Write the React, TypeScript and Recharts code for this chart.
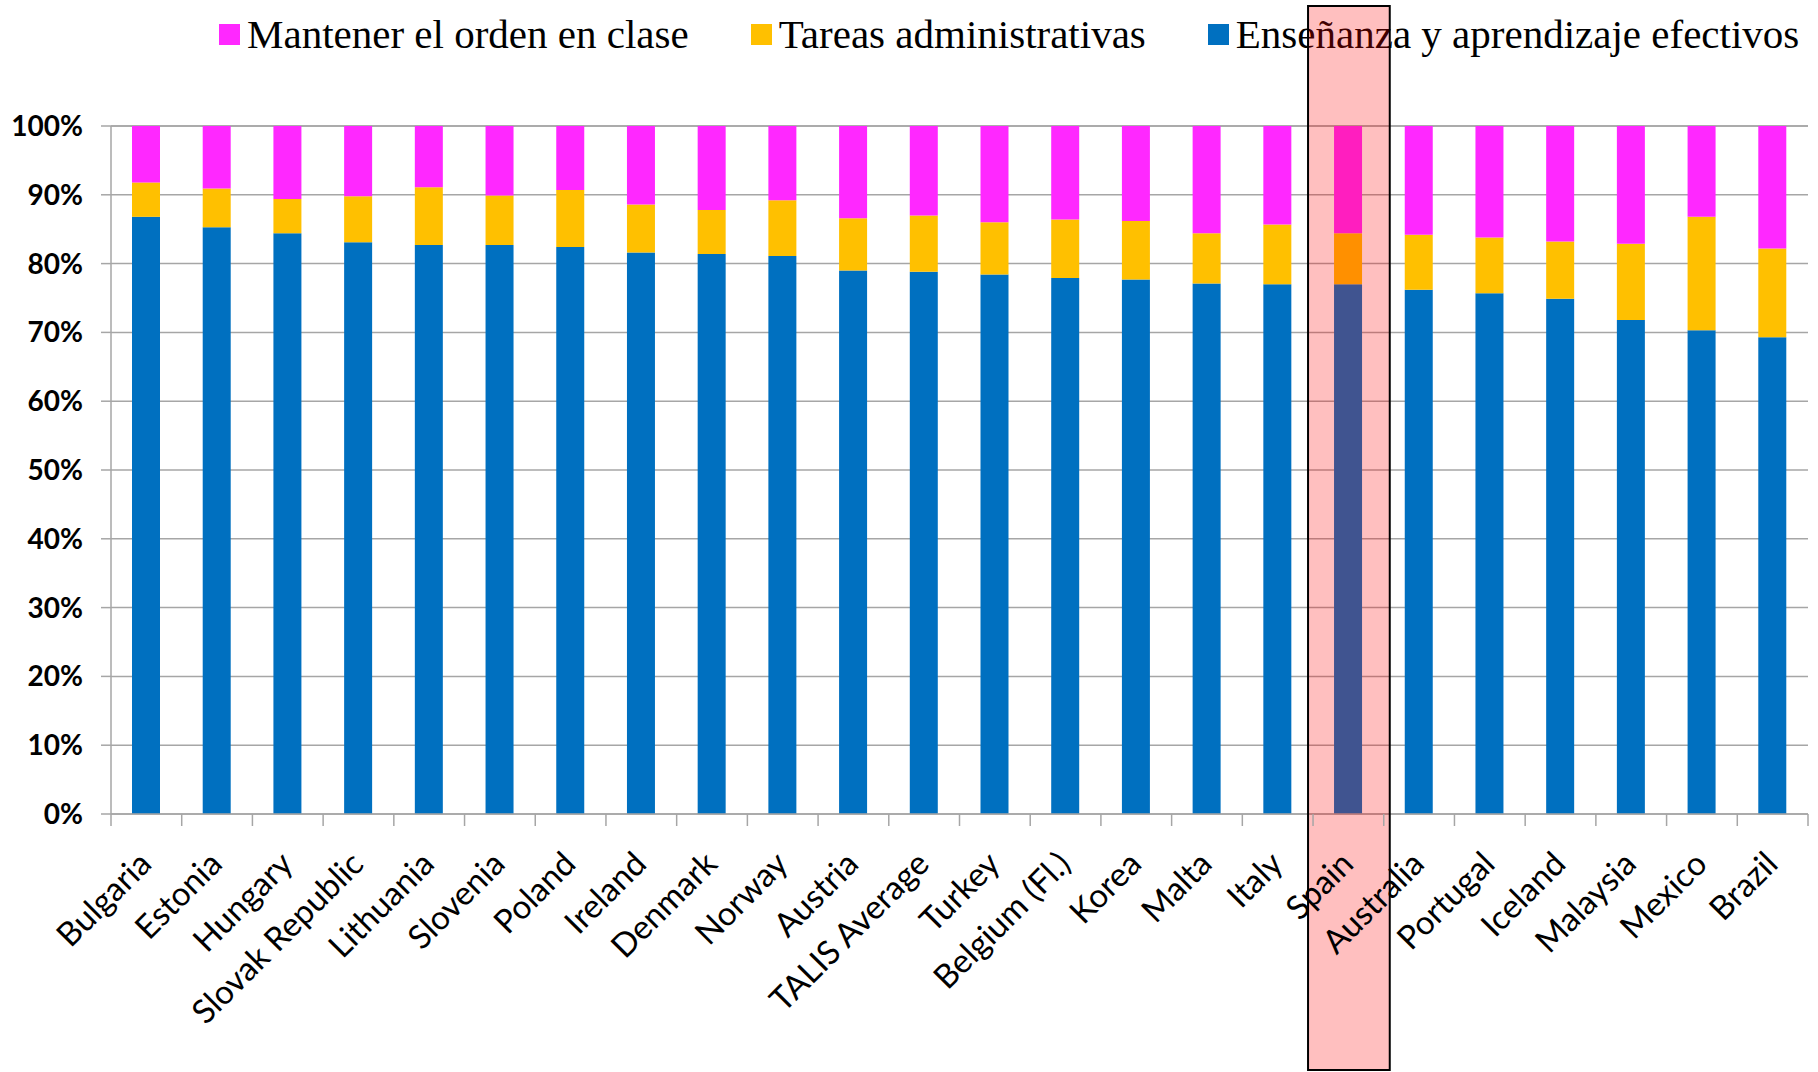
import { BarChart, Bar, XAxis, YAxis, CartesianGrid, ReferenceArea } from 'recharts';

const countries = [
  'Bulgaria', 'Estonia', 'Hungary', 'Slovak Republic', 'Lithuania', 'Slovenia',
  'Poland', 'Ireland', 'Denmark', 'Norway', 'Austria', 'TALIS Average',
  'Turkey', 'Belgium (Fl.)', 'Korea', 'Malta', 'Italy', 'Spain',
  'Australia', 'Portugal', 'Iceland', 'Malaysia', 'Mexico', 'Brazil',
];

// Enseñanza y aprendizaje efectivos
const teaching = [
  86.8, 85.3, 84.4, 83.1, 82.7, 82.7, 82.4, 81.6, 81.4, 81.1, 79.0, 78.8,
  78.4, 77.9, 77.7, 77.1, 77.0, 77.0, 76.2, 75.7, 74.9, 71.8, 70.3, 69.3,
];
// Tareas administrativas
const admin = [
  5.0, 5.6, 5.0, 6.7, 8.4, 7.2, 8.3, 7.0, 6.4, 8.1, 7.6, 8.2,
  7.6, 8.5, 8.5, 7.3, 8.7, 7.4, 8.0, 8.1, 8.3, 11.1, 16.5, 12.9,
];
// Mantener el orden en clase
const order = [
  8.2, 9.1, 10.6, 10.2, 8.9, 10.1, 9.3, 11.4, 12.2, 10.8, 13.4, 13.0,
  14.0, 13.6, 13.8, 15.6, 14.3, 15.6, 15.8, 16.2, 16.8, 17.1, 13.2, 17.8,
];

const yTicks = [0, 10, 20, 30, 40, 50, 60, 70, 80, 90, 100];
const highlighted = 'Spain';

const BLUE = '#0070C0';
const YELLOW = '#FFC000';
const MAGENTA = '#FF28FF';
const GRAY = '#A6A6A6';

const W = 1818;
const H = 1072;

const legendItems = [
  { label: 'Mantener el orden en clase', color: MAGENTA },
  { label: 'Tareas administrativas', color: YELLOW },
  { label: 'Enseñanza y aprendizaje efectivos', color: BLUE },
];

const data = countries.map((name, i) => ({
  name,
  teaching: teaching[i],
  admin: admin[i],
  order: order[i],
}));

function CountryTick(props: any) {
  const { x, y, payload, index } = props;
  const half = payload && payload.offset ? payload.offset : 35.35;
  const tx = x + 7;
  const ty = y + 52;
  return (
    <g>
      <line x1={x - half} y1={y} x2={x - half} y2={y + 12} stroke={GRAY} strokeWidth={1.5} />
      {index === countries.length - 1 && (
        <line x1={x + half} y1={y} x2={x + half} y2={y + 12} stroke={GRAY} strokeWidth={1.5} />
      )}
      <text
        x={tx}
        y={ty}
        transform={`rotate(-45, ${tx}, ${ty})`}
        textAnchor="end"
        fontSize={33}
        fontFamily="Lato, sans-serif"
        fill="#000"
      >
        {payload.value}
      </text>
    </g>
  );
}

function HighlightBox(props: any) {
  const { x, width } = props;
  const top = 6;
  const bottom = H - 2;
  return (
    <rect
      x={x - 5}
      y={top}
      width={width + 11}
      height={bottom - top}
      fill="#FF0000"
      fillOpacity={0.25}
      stroke="#000"
      strokeWidth={2}
    />
  );
}

export default function App() {
  return (
    <div style={{ position: 'absolute', left: 0, top: 0, width: W, height: H, background: '#fff' }}>
      <div
        style={{
          position: 'absolute',
          left: 219,
          top: 0,
          height: 68,
          display: 'flex',
          alignItems: 'center',
          fontFamily: '"Liberation Serif", serif',
          fontSize: 41,
          color: '#000',
          whiteSpace: 'nowrap',
        }}
      >
        {legendItems.map((item) => (
          <div key={item.label} style={{ display: 'flex', alignItems: 'center', marginRight: 62 }}>
            <span style={{ width: 21, height: 21, background: item.color, marginRight: 7, display: 'inline-block' }} />
            <span style={{ lineHeight: '41px' }}>{item.label}</span>
          </div>
        ))}
      </div>
      <div style={{ position: 'absolute', left: 0, top: 0 }}>
        <BarChart
          width={W}
          height={H}
          data={data}
          margin={{ top: 126, right: 10, bottom: 0, left: 0 }}
          barSize={28}
        >
          <CartesianGrid vertical={false} stroke={GRAY} strokeWidth={1.5} />
          <YAxis
            type="number"
            domain={[0, 100]}
            ticks={yTicks}
            interval={0}
            width={111}
            tickFormatter={(v) => `${v}%`}
            tick={{ fontSize: 28, fontWeight: 'bold', fill: '#000', fontFamily: 'Lato, sans-serif' }}
            tickSize={10}
            tickMargin={18}
            tickLine={{ stroke: GRAY, strokeWidth: 1.5 }}
            axisLine={{ stroke: GRAY, strokeWidth: 1.5 }}
          />
          <XAxis
            dataKey="name"
            interval={0}
            height={258}
            tickSize={0}
            tickMargin={0}
            tickLine={false}
            axisLine={{ stroke: GRAY, strokeWidth: 1.5 }}
            tick={<CountryTick />}
          />
          <Bar dataKey="teaching" stackId="a" fill={BLUE} isAnimationActive={false} />
          <Bar dataKey="admin" stackId="a" fill={YELLOW} isAnimationActive={false} />
          <Bar dataKey="order" stackId="a" fill={MAGENTA} isAnimationActive={false} />
          <ReferenceArea
            x1={highlighted}
            x2={highlighted}
            ifOverflow="visible"
            shape={<HighlightBox />}
            zIndex={1500}
          />
        </BarChart>
      </div>
    </div>
  );
}
